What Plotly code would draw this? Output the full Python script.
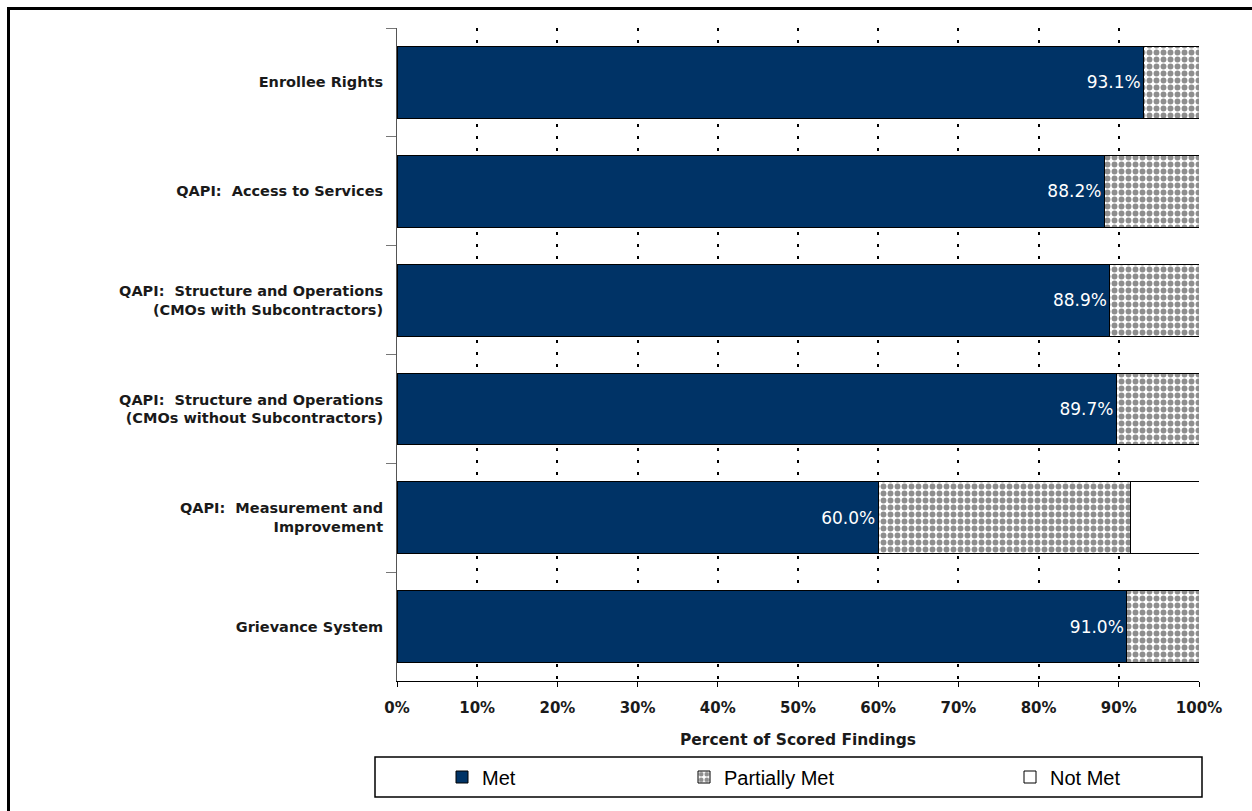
import plotly.graph_objects as go

categories = [
    "Enrollee Rights",
    "QAPI:  Access to Services",
    "QAPI:  Structure and Operations<br>(CMOs with Subcontractors)",
    "QAPI:  Structure and Operations<br>(CMOs without Subcontractors)",
    "QAPI:  Measurement and<br>Improvement",
    "Grievance System",
]
met = [93.1, 88.2, 88.9, 89.7, 60.0, 91.0]
partially_met = [6.9, 11.8, 11.1, 10.3, 31.4, 9.0]
not_met = [0.0, 0.0, 0.0, 0.0, 8.6, 0.0]
x_ticks = list(range(0, 101, 10))
x_tick_labels = [f"{t}%" for t in x_ticks]

W, H = 1252, 811
L, R, T, B = 397, 1199, 28, 681


def px(xp):
    return (xp - L) / (R - L)


def py(yp):
    return (B - yp) / (B - T)


BASE = "DejaVu Sans"
TXT = "#1a1a1a"
fig = go.Figure()
fig.add_trace(go.Bar(
    y=categories, x=met, orientation="h", name="Met",
    marker=dict(color="#003366", line=dict(color="black", width=1)),
    text=[f"{v:.1f}%" for v in met], textposition="inside",
    insidetextanchor="end", textfont=dict(color="white", size=17, family=BASE),
    legend="legend", showlegend=True,
))
fig.add_trace(go.Bar(
    y=categories, x=partially_met, orientation="h", name="Partially Met",
    marker=dict(color="white", line=dict(color="black", width=1),
                pattern=dict(shape=".", fgcolor="#1e1e1e", bgcolor="white",
                             size=7, solidity=0.55)),
    legend="legend2", showlegend=True,
))
fig.add_trace(go.Bar(
    y=categories, x=not_met, orientation="h", name="Not Met",
    marker=dict(color="white", line=dict(color="black", width=1)),
    legend="legend3", showlegend=True,
))

leg_common = dict(orientation="h", yanchor="middle", xanchor="left",
                  y=py(777), bgcolor="rgba(0,0,0,0)",
                  font=dict(family="Liberation Sans", size=20, color="black"))

fig.update_layout(
    width=W, height=H,
    margin=dict(l=L, r=W - R, t=T, b=H - B),
    barmode="stack", bargap=0.34,
    showlegend=True,
    plot_bgcolor="white", paper_bgcolor="white",
    font=dict(family=BASE, color=TXT),
    legend=dict(x=px(442), **leg_common),
    legend2=dict(x=px(684), **leg_common),
    legend3=dict(x=px(1010), **leg_common),
    xaxis=dict(
        range=[0, 100], tickvals=x_ticks, ticktext=x_tick_labels,
        showgrid=True, gridcolor="black", gridwidth=2, griddash="3px,9px",
        showline=True, linecolor="black", linewidth=1,
        ticks="outside", ticklen=5, tickcolor="black",
        ticklabelstandoff=8,
        tickfont=dict(family=BASE, size=15, color=TXT, weight="bold"),
        title=dict(text="Percent of Scored Findings",
                   font=dict(family=BASE, size=15.5, color=TXT, weight="bold"),
                   standoff=18),
        zeroline=False, fixedrange=True,
    ),
    yaxis=dict(
        categoryorder="array", categoryarray=categories, autorange="reversed",
        showline=True, linecolor="#555555", linewidth=1,
        ticks="outside", ticklen=10, tickcolor="#777777", tickson="boundaries",
        ticklabelstandoff=10,
        tickfont=dict(family=BASE, size=14.5, color=TXT, weight="bold"),
        showgrid=False, zeroline=False, fixedrange=True,
    ),
    shapes=[
        dict(type="rect", xref="paper", yref="paper",
             x0=px(375), x1=px(1202), y0=py(797), y1=py(757),
             line=dict(color="black", width=1.5), fillcolor="rgba(0,0,0,0)"),
        dict(type="rect", xref="paper", yref="paper",
             x0=px(8.5), x1=px(1270), y0=py(830), y1=py(8.5),
             line=dict(color="black", width=3), fillcolor="rgba(0,0,0,0)"),
    ],
)

fig.write_html("out.html")
